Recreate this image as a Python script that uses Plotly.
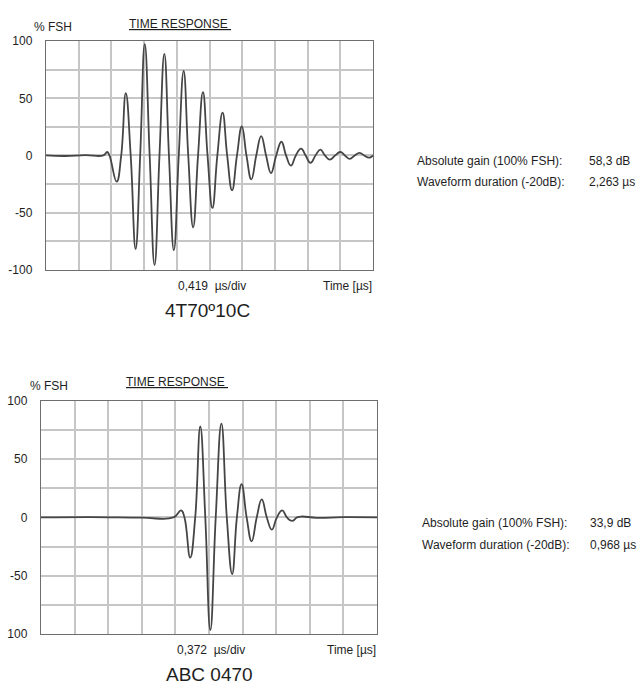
import plotly.graph_objects as go

W, H = 637, 691

# ---- data (x in divisions of the time base, y in % FSH) ----
top_x = [0.0, 0.6, 1.2, 1.75, 1.87, 1.94, 2.16, 2.30, 2.44, 2.59, 2.74, 2.88, 3.02, 3.17,
         3.32, 3.47, 3.62, 3.76, 3.91, 4.06, 4.21, 4.35, 4.50, 4.65, 4.80, 4.94, 5.09,
         5.24, 5.40, 5.54, 5.69, 5.84, 5.99, 6.13, 6.28, 6.43, 6.58, 6.73, 6.88, 7.04,
         7.20, 7.34, 7.49, 7.64, 7.80, 7.94, 8.09, 8.24, 8.39, 8.53, 8.68, 8.84, 9.00,
         9.14, 9.29, 9.44, 9.59, 9.73, 9.88, 10.0]
top_y = [0.0, -0.5, 0.3, 0.0, 3.0, 0.0, -23.0, 0.0, 54.5, 0.0, -82.0, 0.0, 97.5, 0.0,
         -96.0, 0.0, 89.0, 0.0, -83.0, 0.0, 74.0, 0.0, -63.0, 0.0, 55.5, 0.0, -46.0,
         0.0, 37.5, 0.0, -30.5, 0.0, 25.5, 0.0, -21.0, 0.0, 17.0, 0.0, -15.5, 0.0,
         12.0, 0.0, -9.0, 0.0, 6.0, 0.0, -6.5, 0.0, 5.0, 0.0, -3.7, 0.0, 3.0,
         0.0, -3.0, 0.0, 2.3, 0.0, -2.0, 0.0]

bot_x = [0.0, 1.5, 3.0, 3.94, 4.17, 4.27, 4.44, 4.59, 4.74, 4.89, 5.04, 5.20, 5.37, 5.53,
         5.69, 5.83, 5.97, 6.12, 6.27, 6.42, 6.57, 6.72, 6.87, 7.02, 7.18, 7.32, 7.47,
         7.62, 7.76, 8.2, 9.0, 10.0]
bot_y = [0.0, 0.3, -0.2, 0.0, 6.0, 0.0, -34.5, 0.0, 78.0, 0.0, -96.5, 0.0, 80.5, 0.0,
         -48.5, 0.0, 28.5, 0.0, -20.5, 0.0, 15.5, 0.0, -10.5, 0.0, 6.0, 0.0, -3.0,
         0.0, 0.8, -0.3, 0.2, 0.0]

y_ticks = [-100, -75, -50, -25, 0, 25, 50, 75, 100]
top_y_text = ["-100", "", "-50", "", "0", "", "50", "", "100"]
bot_y_text = ["100", "", "-50", "", "0", "", "50", "", "100"]
x_grid = list(range(0, 11))

top_info = [("Absolute gain (100% FSH):", "58,3 dB"), ("Waveform duration (-20dB):", "2,263 µs")]
bot_info = [("Absolute gain (100% FSH):", "33,9 dB"), ("Waveform duration (-20dB):", "0,968 µs")]

FONT = "Liberation Sans, Arial, sans-serif"
LINE = "#454545"
GRID = "#c6c6c6"
BORDER = "#6e6e6e"
TXT = "#1e1e1e"


def px(x):
    return x / W


def py(y):
    return 1 - y / H


fig = go.Figure()
fig.add_trace(go.Scatter(x=top_x, y=top_y, mode="lines", xaxis="x", yaxis="y",
                         line=dict(color=LINE, width=1.8, shape="spline", smoothing=1.3),
                         hoverinfo="skip"))
fig.add_trace(go.Scatter(x=bot_x, y=bot_y, mode="lines", xaxis="x2", yaxis="y2",
                         line=dict(color=LINE, width=1.8, shape="spline", smoothing=1.3),
                         hoverinfo="skip"))

xcommon = dict(range=[0, 10], tickvals=x_grid, showticklabels=False, showgrid=True,
               gridcolor=GRID, gridwidth=1.6, zeroline=False, showline=True, mirror=True,
               linecolor=BORDER, linewidth=1.4, ticks="", fixedrange=True)
ycommon = dict(range=[-100, 100], tickvals=y_ticks, showgrid=True, gridcolor=GRID,
               gridwidth=1.6, zeroline=False, showline=True, mirror=True,
               linecolor=BORDER, linewidth=1.4, ticks="", ticklabelstandoff=10,
               tickfont=dict(family=FONT, size=12, color=TXT), fixedrange=True)

fig.update_layout(
    width=W, height=H, margin=dict(l=0, r=0, t=0, b=0),
    paper_bgcolor="white", plot_bgcolor="white", showlegend=False,
    font=dict(family=FONT, color=TXT),
    xaxis=dict(domain=[px(46), px(373)], anchor="y", **xcommon),
    yaxis=dict(domain=[py(268), py(35)], anchor="x", ticktext=top_y_text, **ycommon),
    xaxis2=dict(domain=[px(41), px(377)], anchor="y2", **xcommon),
    yaxis2=dict(domain=[py(640), py(402)], anchor="x2", ticktext=bot_y_text, **ycommon),
)

ann = []


def text(x, y, s, size=12, xanchor="left"):
    ann.append(dict(x=px(x), y=py(y), xref="paper", yref="paper", text=s, showarrow=False,
                    xanchor=xanchor, yanchor="middle", font=dict(family=FONT, size=size, color=TXT)))


# top panel
text(32, 20, "% FSH")
text(127, 17, "<u>TIME RESPONSE&nbsp;</u>")
text(176, 285, "0,419&nbsp;&nbsp;µs/div")
text(374, 285, "Time [µs]", xanchor="right")
text(207, 310, "4T70º10C", size=19, xanchor="center")
for i, (lab, val) in enumerate(top_info):
    text(415, 157 + i * 22, lab, size=12)
    text(587, 157 + i * 22, val, size=12)

# bottom panel
text(28, 387, "% FSH")
text(124, 383, "<u>TIME RESPONSE&nbsp;</u>")
text(175, 656, "0,372&nbsp;&nbsp;µs/div")
text(378, 656, "Time [µs]", xanchor="right")
text(209, 681, "ABC 0470", size=19, xanchor="center")
for i, (lab, val) in enumerate(bot_info):
    text(420, 527 + i * 22, lab, size=12)
    text(588, 527 + i * 22, val, size=12)

fig.update_layout(annotations=ann)
fig.write_html("out.html")
